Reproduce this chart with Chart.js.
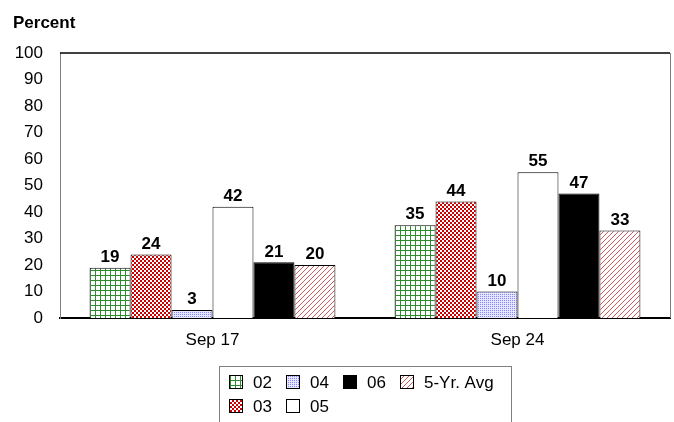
<!DOCTYPE html>
<html>
<head>
<meta charset="utf-8">
<script src="https://cdn.jsdelivr.net/npm/chart.js@4"></script>
<style>
  body { margin: 0; background: #fff; }
  canvas { display: block; }
</style>
</head>
<body>
<canvas id="chart" width="674" height="422"></canvas>
<script>
// data
const categories = ["Sep 17", "Sep 24"];
const seriesNames = ["02", "03", "04", "05", "06", "5-Yr. Avg"];
const v02 = [19, 35];
const v03 = [24, 44];
const v04 = [3, 10];
const v05 = [42, 55];
const v06 = [21, 47];
const vAvg = [20, 33];
const yTicks = [0, 10, 20, 30, 40, 50, 60, 70, 80, 90, 100];

const FONT = "Liberation Sans, Arial, sans-serif";

// little tiles for the hatch fills
function makePattern(size, draw) {
  const c = document.createElement("canvas");
  c.width = size;
  c.height = size;
  const g = c.getContext("2d");
  g.fillStyle = "#fff";
  g.fillRect(0, 0, size, size);
  draw(g);
  return document.getElementById("chart").getContext("2d").createPattern(c, "repeat");
}

const pGrid = makePattern(5, g => {
  g.fillStyle = "#2e8b2e";
  g.fillRect(0, 0, 5, 1);
  g.fillRect(0, 0, 1, 5);
});
const pCheck = makePattern(4, g => {
  g.fillStyle = "#cc0000";
  g.fillRect(0, 0, 2, 2);
  g.fillRect(2, 2, 2, 2);
});
const pDots = makePattern(2, g => {
  g.fillStyle = "#e6e6ff";
  g.fillRect(0, 0, 2, 2);
  g.fillStyle = "#8585ff";
  g.fillRect(0, 0, 1, 1);
});
const pDiag = makePattern(5, g => {
  g.fillStyle = "#cf5a5a";
  for (let i = 0; i < 5; i++) g.fillRect(i, 4 - i, 1, 1);
});

const fills = [pGrid, pCheck, pDots, "#ffffff", "#000000", pDiag];
const values = [v02, v03, v04, v05, v06, vAvg];

// legend drawn in columns like the original
const legendOrder = [0, 2, 4, 5, 1, 3];
const legendX = [229, 286, 343, 400];
const legendY = [382, 406];

const extras = {
  id: "extras",
  afterDraw(chart) {
    const ctx = chart.ctx;
    const a = chart.chartArea;
    ctx.save();
    // frame top + right
    ctx.strokeStyle = "#000";
    ctx.lineWidth = 1.5;
    ctx.beginPath();
    ctx.moveTo(a.left, a.top);
    ctx.lineTo(a.right, a.top);
    ctx.stroke();
    ctx.strokeStyle = "#808080";
    ctx.lineWidth = 1;
    ctx.beginPath();
    ctx.moveTo(a.right + 0.5, a.top);
    ctx.lineTo(a.right + 0.5, a.bottom);
    ctx.stroke();

    // axis title
    ctx.fillStyle = "#000";
    ctx.font = "bold 17px " + FONT;
    ctx.textAlign = "left";
    ctx.textBaseline = "alphabetic";
    ctx.fillText("Percent", 13, 28);

    // value labels
    ctx.textAlign = "center";
    ctx.textBaseline = "bottom";
    chart.data.datasets.forEach((ds, i) => {
      chart.getDatasetMeta(i).data.forEach((bar, j) => {
        ctx.fillText(String(ds.data[j]), bar.x, bar.y - 2);
      });
    });

    // legend
    ctx.strokeStyle = "#808080";
    ctx.lineWidth = 1;
    ctx.strokeRect(219.5, 366.5, 292, 70);
    ctx.font = "17px " + FONT;
    ctx.textAlign = "left";
    ctx.textBaseline = "middle";
    legendOrder.forEach((idx, k) => {
      const ds = chart.data.datasets[idx];
      const x = legendX[k % 4];
      const y = legendY[Math.floor(k / 4)];
      ctx.fillStyle = ds.backgroundColor;
      ctx.fillRect(x, y - 7, 13, 13);
      ctx.strokeStyle = "#000";
      ctx.strokeRect(x + 0.5, y - 6.5, 13, 13);
      ctx.fillStyle = "#000";
      ctx.fillText(ds.label, x + 24, y + 1);
    });
    ctx.restore();
  }
};

new Chart(document.getElementById("chart"), {
  type: "bar",
  data: {
    labels: categories,
    datasets: seriesNames.map((name, i) => ({
      label: name,
      data: values[i],
      backgroundColor: fills[i],
      borderColor: "#000",
      borderWidth: 1,
      borderSkipped: "bottom",
      categoryPercentage: 0.806,
      barPercentage: 1
    }))
  },
  options: {
    responsive: false,
    animation: false,
    layout: { padding: { top: 53, right: 4, bottom: 74, left: 0 } },
    plugins: {
      legend: { display: false },
      tooltip: { enabled: false }
    },
    scales: {
      x: {
        grid: { display: false, drawTicks: false },
        border: { color: "#000", width: 2 },
        ticks: { color: "#000", font: { family: FONT, size: 17 }, padding: 12 },
        afterFit(s) { s.height = 30; }
      },
      y: {
        min: 0,
        max: 100,
        afterBuildTicks(s) { s.ticks = yTicks.map(v => ({ value: v })); },
        grid: { display: false, drawTicks: false },
        border: { color: "#808080", width: 1 },
        ticks: { color: "#000", font: { family: FONT, size: 17 }, padding: 17 },
        afterFit(s) { s.width = 60; }
      }
    }
  },
  plugins: [extras]
});
</script>
</body>
</html>
